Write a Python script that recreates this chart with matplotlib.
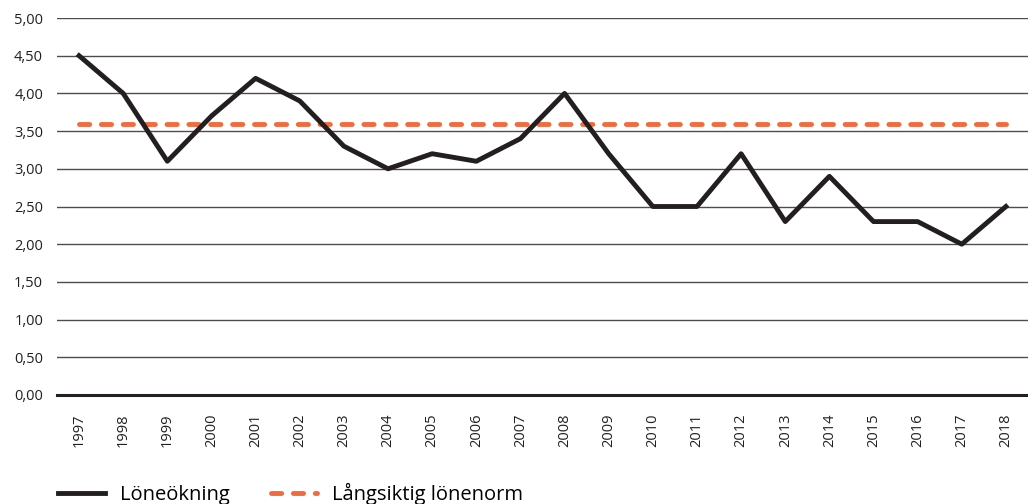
import numpy as np
import matplotlib
matplotlib.use("Agg")
import matplotlib.pyplot as plt

years = [str(y) for y in range(1997, 2019)]
loneokning = [4.5, 4.0, 3.1, 3.7, 4.2, 3.9, 3.3, 3.0, 3.2, 3.1, 3.4, 4.0,
              3.2, 2.5, 2.5, 3.2, 2.3, 2.9, 2.3, 2.3, 2.0, 2.5]
lonenorm = [3.6] * len(years)
yticks = np.arange(0, 5.01, 0.5)

plt.rcParams['font.family'] = ['Open Sans', 'DejaVu Sans']

fig = plt.figure(figsize=(10.28, 5.04), dpi=100)
ax = fig.add_axes([57 / 1028, 1 - 395 / 504, 1 - 57 / 1028, (395 - 18) / 504])

x = np.arange(len(years))
ax.plot(x, lonenorm, color="#F26A3D", lw=3.5, dashes=(2.1, 2.4),
        dash_capstyle="round", label="Långsiktig lönenorm", zorder=3)
ax.plot(x, loneokning, color="#231F20", lw=3.5, label="Löneökning", zorder=4)

ax.set_xlim(-0.5, len(years) - 0.5)
ax.set_ylim(0, 5.0)
ax.set_yticks(yticks)
ax.set_yticklabels([f"{v:.2f}".replace(".", ",") for v in yticks], fontsize=10.5, color="#231F20")
ax.set_xticks(x)
ax.set_xticklabels(years, rotation=90, fontsize=10.5, color="#231F20")
ax.tick_params(axis="both", length=0)
ax.tick_params(axis="y", pad=10)
ax.tick_params(axis="x", pad=13)

for v in yticks[1:]:
    ax.axhline(v, color="#4d4d4d", lw=1.0, zorder=1)
ax.axhline(0, color="#231F20", lw=2.2, zorder=2, clip_on=False)

for s in ax.spines.values():
    s.set_visible(False)

h, l = ax.get_legend_handles_labels()
fig.legend([h[1], h[0]], [l[1], l[0]], loc="lower left", bbox_to_anchor=(0.039, -0.038),
           ncol=2, frameon=False, fontsize=14.5, handlelength=2.3, columnspacing=2.05,
           handletextpad=0.75)

fig.savefig("out.png", dpi=100)
